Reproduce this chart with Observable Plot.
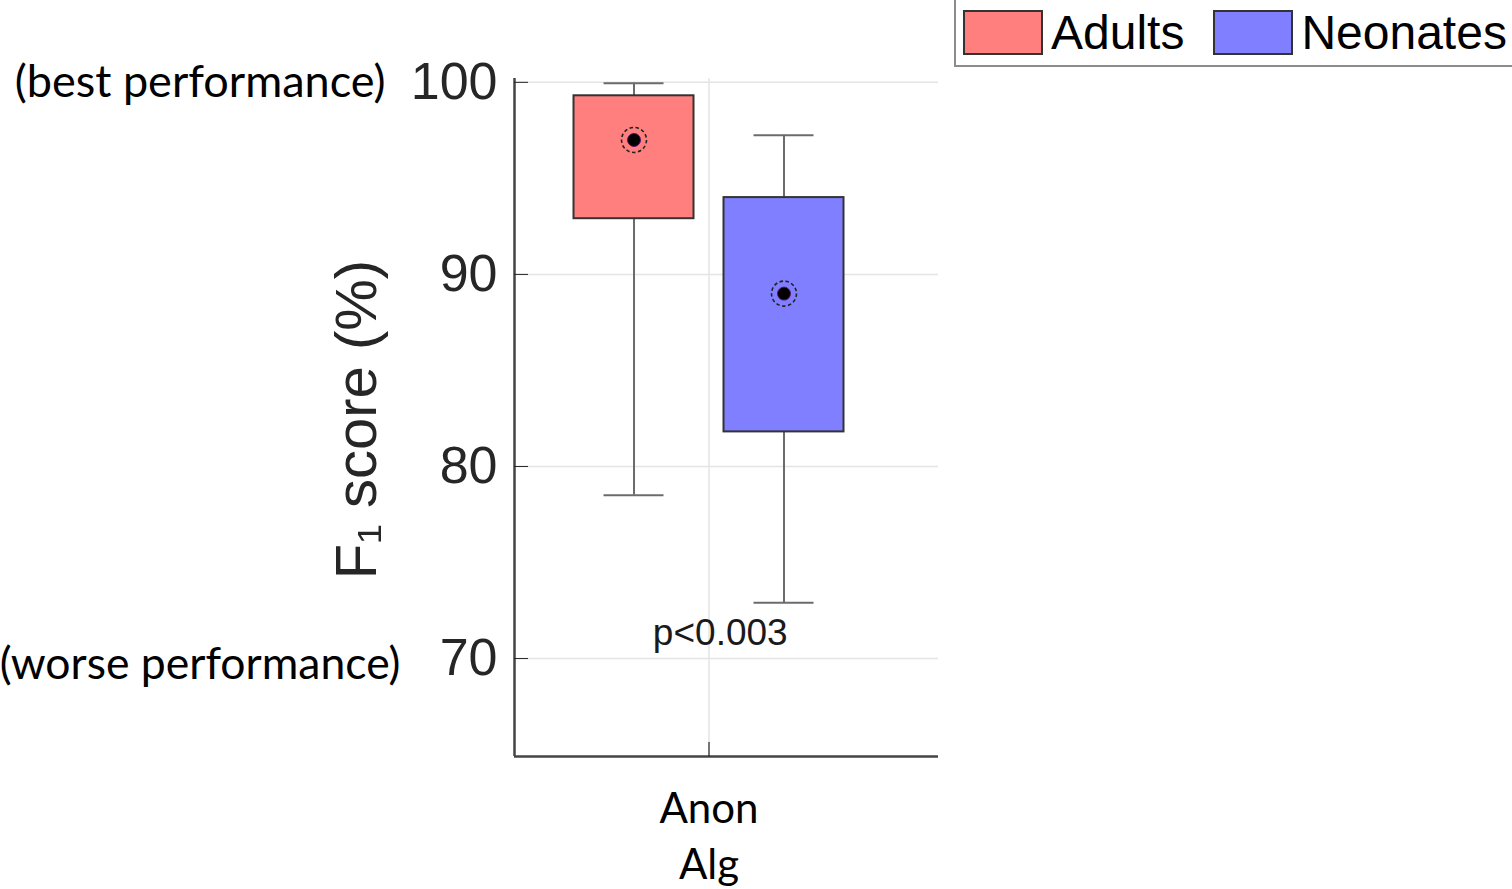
<!DOCTYPE html>
<html><head><meta charset="utf-8">
<script src="https://cdn.jsdelivr.net/npm/d3@7"></script>
<script src="https://cdn.jsdelivr.net/npm/@observablehq/plot@0.6"></script>
<style>
body{margin:0;background:#fff;}
#wrap{position:relative;width:1512px;height:889px;overflow:hidden}
#legend{position:absolute;left:954px;top:-2px;width:570px;height:69px;border:2px solid #8c8c8c;box-sizing:border-box;display:flex;align-items:center;padding-left:7px;font-family:"Liberation Sans",Arial,sans-serif;font-size:48px;color:#000;background:#fff}
.sw{width:80px;height:45px;border:2px solid #333;box-sizing:border-box;margin-right:8px;flex-shrink:0}
.lab{margin-right:29px;white-space:nowrap}
</style></head><body><div id="wrap"><div id="chart"></div><div id="legend"></div></div>
<script>
// ---- data ----
const categories = ["Anon\nAlg"];
const groups = ["Adults", "Neonates"];
const colors = ["#ff7f7f", "#7f7fff"];
const whiskerLow = [78.5, 72.9];
const q1 = [92.9, 81.8];
const median = [97.0, 89.0];
const q3 = [99.3, 94.0];
const whiskerHigh = [99.95, 97.25];
const yTicks = [70, 80, 90, 100];
const pLabel = "p<0.003";
const pPos = {x: 1.03, y: 71.3};
const bestLabel = "(best performance)";
const worseLabel = "(worse performance)";
const yLabel = "F\u2081 score (%)";

// ---- layout ----
const xDomain = [0.4813, 1.612];
const yDomain = [64.9, 100.2];
const offsets = [-0.2, 0.2];
const boxHalf = 0.16, capHalf = 0.08;

const rows = groups.map((g, i) => ({
  group: g, pos: 1 + offsets[i],
  lo: whiskerLow[i], q1: q1[i], med: median[i], q3: q3[i], hi: whiskerHigh[i]
}));

const whisk = {stroke: "#6b6b6b", strokeWidth: 2};
const calibri = "Lato, 'Open Sans', sans-serif";
const helv = "'Liberation Sans', Arial, sans-serif";

const chart = Plot.plot({
  width: 1512, height: 889,
  marginLeft: 514, marginRight: 574, marginTop: 78, marginBottom: 133,
  x: {type: "linear", domain: xDomain},
  y: {domain: yDomain},
  color: {domain: groups, range: colors},
  style: {background: "transparent", overflow: "visible"},
  marks: [
    Plot.gridY(yTicks, {stroke: "#e4e4e4", strokeOpacity: 1, strokeWidth: 1.5}),
    Plot.gridX([1], {stroke: "#e4e4e4", strokeOpacity: 1, strokeWidth: 1.5}),
    Plot.ruleX(rows, {x: "pos", y1: "q3", y2: "hi", ...whisk}),
    Plot.ruleX(rows, {x: "pos", y1: "lo", y2: "q1", ...whisk}),
    Plot.ruleY(rows, {y: "hi", x1: d => d.pos - capHalf, x2: d => d.pos + capHalf, ...whisk}),
    Plot.ruleY(rows, {y: "lo", x1: d => d.pos - capHalf, x2: d => d.pos + capHalf, ...whisk}),
    Plot.rect(rows, {x1: d => d.pos - boxHalf, x2: d => d.pos + boxHalf, y1: "q1", y2: "q3", fill: "group", stroke: "#333", strokeWidth: 2}),
    Plot.dot(rows, {x: "pos", y: "med", r: 12.5, fill: "none", stroke: "#222", strokeWidth: 1.6, strokeDasharray: "3.5,2.5"}),
    Plot.dot(rows, {x: "pos", y: "med", r: 6.5, fill: "#000", stroke: "#5a1466", strokeWidth: 1}),
    Plot.ruleX([xDomain[0]], {stroke: "#444", strokeWidth: 2.5}),
    Plot.ruleY([yDomain[0]], {stroke: "#444", strokeWidth: 2.5}),
    Plot.axisY(yTicks, {tickSize: -14, tickPadding: 31, fontSize: 52, fontFamily: helv, color: "#262626", label: null}),
    Plot.axisX([1], {tickSize: -14, tickPadding: 40, tickFormat: () => categories[0], fontSize: 42, fontFamily: calibri, color: "#000", lineHeight: 1.35, label: null}),
    Plot.text([pLabel], {x: pPos.x, y: pPos.y, text: d => d, fontSize: 37, fontFamily: helv, fill: "#1a1a1a"}),
    Plot.text([bestLabel], {y: 100, frameAnchor: "left", dx: -129, textAnchor: "end", text: d => d, fontSize: 45, fontFamily: calibri, fill: "#000"}),
    Plot.text([worseLabel], {y: 70, frameAnchor: "left", dx: -114, dy: 6, textAnchor: "end", text: d => d, fontSize: 44.5, fontFamily: calibri, fill: "#000"}),
    Plot.text([yLabel], {frameAnchor: "left", dx: -157, dy: 2, rotate: -90, textAnchor: "middle", text: d => d, fontSize: 58, fontFamily: helv, fill: "#262626"})
  ]
});
document.getElementById("chart").append(chart);

const legend = document.getElementById("legend");
groups.forEach((g, i) => {
  const s = document.createElement("div"); s.className = "sw"; s.style.background = colors[i];
  const t = document.createElement("span"); t.className = "lab"; t.textContent = g;
  legend.append(s, t);
});
</script></body></html>
